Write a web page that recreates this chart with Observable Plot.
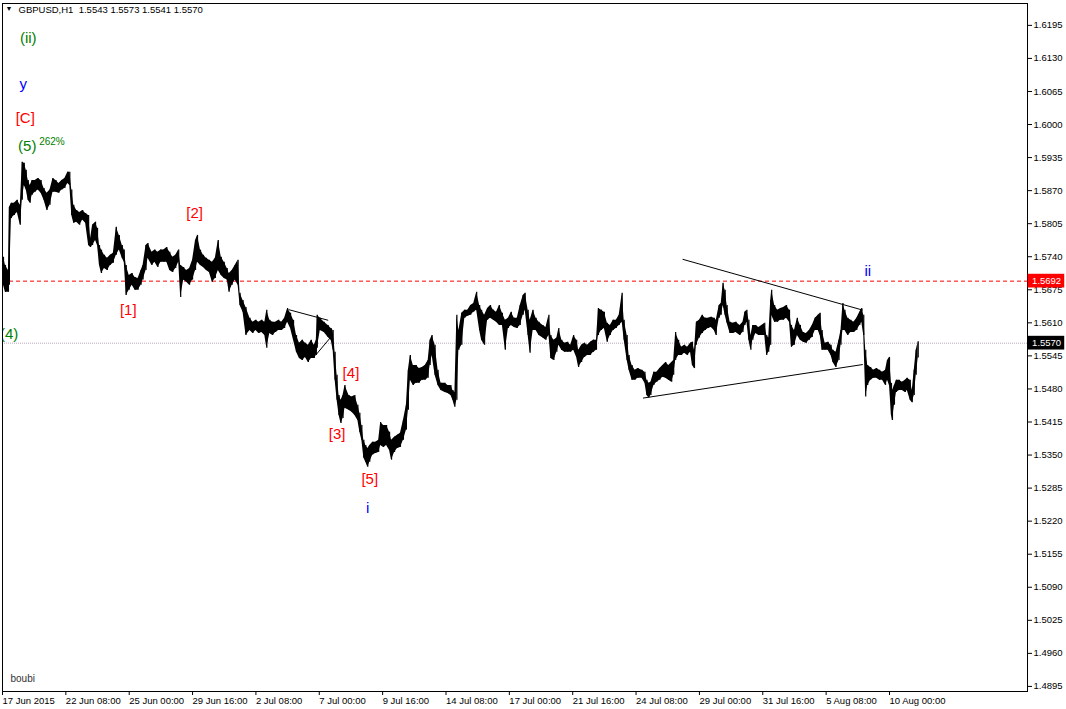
<!DOCTYPE html>
<html><head><meta charset="utf-8">
<script src="https://cdn.jsdelivr.net/npm/d3@7"></script>
<script src="https://cdn.jsdelivr.net/npm/@observablehq/plot@0.6"></script>
<style>body{margin:0;background:#fff;overflow:hidden}</style>
</head><body><div id="chart"></div>
<script>
// [bar index, high, low] sampled from the hourly GBPUSD bars
const hourlyRange = [
[0,1.5739,1.5684],[2,1.5723,1.5670],[5,1.5713,1.5670],[6,1.5837,1.5684],[8,1.5845,1.5815],[11,1.5845,1.5821],[14,1.5851,1.5827],[17,1.5841,1.5802],[19,1.5926,1.5851],[21,1.5924,1.5880],
[23,1.5910,1.5871],[25,1.5890,1.5851],[27,1.5880,1.5845],[29,1.5890,1.5861],[32,1.5890,1.5867],[35,1.5894,1.5871],[38,1.5890,1.5865],[41,1.5874,1.5851],[44,1.5865,1.5831],[47,1.5871,1.5841],
[50,1.5894,1.5867],[53,1.5890,1.5867],[56,1.5884,1.5865],[59,1.5890,1.5871],[62,1.5894,1.5874],[65,1.5906,1.5884],[67,1.5906,1.5880],[69,1.5871,1.5821],[71,1.5841,1.5806],[74,1.5831,1.5808],
[77,1.5827,1.5802],[80,1.5831,1.5812],[83,1.5825,1.5806],[86,1.5821,1.5762],[88,1.5776,1.5758],[90,1.5802,1.5762],[93,1.5808,1.5772],[95,1.5796,1.5762],[97,1.5762,1.5723],[99,1.5753,1.5707],
[102,1.5743,1.5717],[105,1.5737,1.5713],[108,1.5743,1.5723],[111,1.5747,1.5727],[114,1.5798,1.5743],[117,1.5782,1.5753],[120,1.5762,1.5737],[122,1.5753,1.5729],[124,1.5723,1.5664],[127,1.5703,1.5674],
[130,1.5707,1.5684],[133,1.5699,1.5674],[136,1.5697,1.5674],[139,1.5713,1.5684],[141,1.5723,1.5694],[144,1.5762,1.5713],[146,1.5766,1.5737],[150,1.5749,1.5723],[153,1.5753,1.5729],[156,1.5749,1.5719],
[159,1.5753,1.5729],[162,1.5753,1.5729],[165,1.5758,1.5729],[168,1.5749,1.5713],[171,1.5739,1.5709],[174,1.5743,1.5717],[177,1.5753,1.5729],[179,1.5723,1.5660],[182,1.5719,1.5694],[185,1.5713,1.5690],
[188,1.5717,1.5684],[191,1.5733,1.5694],[194,1.5772,1.5713],[196,1.5782,1.5729],[199,1.5753,1.5723],[202,1.5743,1.5719],[205,1.5737,1.5713],[208,1.5733,1.5709],[211,1.5729,1.5690],[214,1.5737,1.5697],
[217,1.5772,1.5713],[220,1.5739,1.5703],[223,1.5729,1.5697],[226,1.5717,1.5694],[228,1.5707,1.5670],[231,1.5713,1.5684],[234,1.5723,1.5694],[237,1.5733,1.5684],[239,1.5668,1.5644],[242,1.5654,1.5631],
[245,1.5640,1.5585],[249,1.5619,1.5595],[252,1.5611,1.5589],[255,1.5615,1.5595],[258,1.5611,1.5589],[261,1.5615,1.5591],[264,1.5611,1.5585],[266,1.5635,1.5560],[269,1.5615,1.5589],[272,1.5611,1.5585],
[275,1.5611,1.5591],[278,1.5615,1.5595],[281,1.5611,1.5595],[284,1.5619,1.5599],[287,1.5638,1.5611],[290,1.5629,1.5599],[293,1.5615,1.5576],[296,1.5585,1.5552],[299,1.5570,1.5540],[302,1.5576,1.5536],
[305,1.5570,1.5542],[308,1.5566,1.5532],[311,1.5576,1.5540],[314,1.5566,1.5540],[316,1.5576,1.5546],[317,1.5625,1.5560],[320,1.5619,1.5595],[324,1.5611,1.5591],[328,1.5605,1.5581],[331,1.5599,1.5576],
[333,1.5595,1.5556],[335,1.5552,1.5497],[337,1.5507,1.5458],[339,1.5467,1.5428],[341,1.5458,1.5412],[343,1.5467,1.5422],[345,1.5487,1.5442],[349,1.5467,1.5438],[352,1.5464,1.5434],[355,1.5467,1.5428],
[358,1.5448,1.5418],[360,1.5432,1.5395],[362,1.5408,1.5379],[364,1.5379,1.5344],[366,1.5369,1.5336],[368,1.5363,1.5326],[370,1.5369,1.5336],[373,1.5375,1.5350],[376,1.5375,1.5353],[379,1.5379,1.5355],
[381,1.5414,1.5369],[384,1.5408,1.5365],[387,1.5408,1.5369],[390,1.5395,1.5359],[392,1.5379,1.5340],[395,1.5385,1.5355],[398,1.5389,1.5363],[401,1.5393,1.5365],[404,1.5418,1.5379],[407,1.5448,1.5399],
[409,1.5517,1.5438],[411,1.5546,1.5497],[414,1.5526,1.5487],[417,1.5526,1.5491],[420,1.5520,1.5491],[423,1.5522,1.5497],[426,1.5526,1.5497],[429,1.5536,1.5501],[431,1.5576,1.5526],[433,1.5585,1.5546],
[436,1.5566,1.5507],[439,1.5517,1.5487],[442,1.5491,1.5477],[446,1.5491,1.5473],[449,1.5487,1.5471],[452,1.5487,1.5467],[454,1.5477,1.5458],[456,1.5473,1.5444],[458,1.5625,1.5458],[460,1.5595,1.5556],
[463,1.5629,1.5566],[466,1.5635,1.5619],[469,1.5635,1.5623],[472,1.5644,1.5625],[475,1.5648,1.5631],[478,1.5670,1.5635],[481,1.5644,1.5595],[483,1.5635,1.5576],[486,1.5625,1.5566],[489,1.5638,1.5615],
[492,1.5644,1.5619],[495,1.5635,1.5615],[498,1.5631,1.5611],[501,1.5644,1.5605],[504,1.5629,1.5605],[507,1.5615,1.5556],[510,1.5619,1.5599],[513,1.5631,1.5605],[516,1.5619,1.5601],[519,1.5619,1.5599],
[522,1.5644,1.5605],[525,1.5664,1.5625],[527,1.5668,1.5635],[530,1.5635,1.5585],[532,1.5615,1.5550],[535,1.5635,1.5595],[538,1.5619,1.5595],[541,1.5611,1.5585],[545,1.5605,1.5580],[548,1.5601,1.5576],
[551,1.5625,1.5585],[553,1.5585,1.5540],[556,1.5576,1.5536],[559,1.5580,1.5552],[561,1.5599,1.5566],[564,1.5576,1.5556],[567,1.5570,1.5552],[570,1.5572,1.5552],[573,1.5566,1.5552],[576,1.5585,1.5556],
[579,1.5576,1.5542],[581,1.5556,1.5522],[584,1.5566,1.5532],[587,1.5570,1.5542],[590,1.5566,1.5546],[593,1.5572,1.5546],[596,1.5576,1.5552],[599,1.5576,1.5556],[601,1.5638,1.5585],[604,1.5635,1.5595],
[607,1.5631,1.5599],[610,1.5609,1.5572],[613,1.5605,1.5585],[616,1.5615,1.5595],[619,1.5615,1.5599],[622,1.5625,1.5605],[625,1.5668,1.5611],[627,1.5615,1.5576],[630,1.5585,1.5536],[632,1.5546,1.5517],
[635,1.5526,1.5497],[638,1.5517,1.5497],[641,1.5520,1.5501],[645,1.5517,1.5501],[648,1.5513,1.5491],[650,1.5497,1.5467],[652,1.5491,1.5462],[654,1.5493,1.5467],[657,1.5513,1.5487],[660,1.5513,1.5493],
[663,1.5520,1.5497],[666,1.5526,1.5503],[669,1.5532,1.5501],[672,1.5526,1.5497],[675,1.5532,1.5493],[677,1.5536,1.5507],[679,1.5591,1.5536],[682,1.5576,1.5546],[685,1.5562,1.5546],[688,1.5566,1.5550],
[691,1.5562,1.5546],[694,1.5570,1.5552],[696,1.5572,1.5526],[698,1.5556,1.5520],[700,1.5611,1.5566],[703,1.5615,1.5580],[706,1.5625,1.5589],[709,1.5619,1.5595],[712,1.5619,1.5599],[715,1.5621,1.5601],
[718,1.5619,1.5595],[720,1.5615,1.5585],[723,1.5644,1.5619],[725,1.5648,1.5625],[727,1.5688,1.5644],[729,1.5674,1.5625],[731,1.5644,1.5609],[734,1.5611,1.5589],[737,1.5609,1.5589],[740,1.5611,1.5591],
[744,1.5605,1.5585],[747,1.5611,1.5591],[749,1.5631,1.5605],[751,1.5635,1.5611],[753,1.5615,1.5576],[755,1.5585,1.5556],[757,1.5605,1.5576],[760,1.5605,1.5589],[763,1.5601,1.5585],[766,1.5605,1.5585],
[769,1.5609,1.5585],[771,1.5585,1.5546],[773,1.5580,1.5552],[775,1.5654,1.5566],[776,1.5674,1.5625],[779,1.5644,1.5611],[782,1.5635,1.5611],[785,1.5638,1.5615],[788,1.5640,1.5615],[791,1.5644,1.5619],
[794,1.5635,1.5611],[796,1.5605,1.5562],[799,1.5595,1.5566],[802,1.5619,1.5585],[805,1.5605,1.5576],[808,1.5591,1.5572],[811,1.5589,1.5570],[814,1.5595,1.5576],[817,1.5605,1.5581],[820,1.5619,1.5595],
[823,1.5625,1.5595],[825,1.5629,1.5585],[827,1.5595,1.5556],[830,1.5570,1.5556],[833,1.5572,1.5556],[836,1.5566,1.5546],[838,1.5556,1.5532],[841,1.5552,1.5522],[844,1.5576,1.5536],[846,1.5595,1.5566],
[848,1.5648,1.5595],[850,1.5635,1.5595],[853,1.5619,1.5585],[856,1.5615,1.5591],[859,1.5611,1.5591],[862,1.5619,1.5595],[865,1.5631,1.5605],[867,1.5638,1.5611],[869,1.5625,1.5585],[871,1.5556,1.5464],
[873,1.5526,1.5487],[876,1.5522,1.5497],[879,1.5517,1.5501],[882,1.5520,1.5501],[885,1.5517,1.5497],[888,1.5513,1.5497],[891,1.5517,1.5487],[893,1.5536,1.5497],[895,1.5542,1.5487],[897,1.5491,1.5428],
[898,1.5477,1.5418],[900,1.5487,1.5448],[902,1.5497,1.5473],[905,1.5497,1.5477],[908,1.5493,1.5477],[911,1.5497,1.5473],[913,1.5501,1.5477],[916,1.5497,1.5458],[918,1.5477,1.5453],[920,1.5517,1.5467],
[922,1.5556,1.5507],[924,1.5573,1.5541]
];

const priceTicks = [1.6195,1.6130,1.6065,1.6000,1.5935,1.5870,1.5805,1.5740,1.5675,1.5610,1.5545,1.5480,1.5415,1.5350,1.5285,1.5220,1.5155,1.5090,1.5025,1.4960,1.4895];
const timeTickBars = [0,64,128,192,256,320,384,448,512,576,640,704,768,832,896];
const timeTickLabels = ["17 Jun 2015","22 Jun 08:00","25 Jun 00:00","29 Jun 16:00","2 Jul 08:00","7 Jul 00:00","9 Jul 16:00","14 Jul 08:00","17 Jul 00:00","21 Jul 16:00","24 Jul 08:00","29 Jul 00:00","31 Jul 16:00","5 Aug 08:00","10 Aug 00:00"];
const levelPrice = 1.5692;
const bidPrice = 1.5570;
const symbolTitle = "GBPUSD,H1  1.5543 1.5573 1.5541 1.5570";
const authorName = "boubi";

// wave labels: text, bar, price, degree
const waveText   = ["(ii)","y","[C]","(5)","262%","[1]","[2]","[3]","[4]","[5]","i","ii","(4)"];
const waveBar    = [25,20,22,24,36,126,193,337,351,370,368,873,15];
const wavePrice  = [1.6169,1.6079,1.6012,1.5957,1.5967,1.5635,1.5825,1.5391,1.5511,1.5302,1.5245,1.5711,1.5587];
const waveDegree = ["intermediate","primary","minor","intermediate","ratio","minor","minor","minor","minor","minor","primary","primary","intermediate"];

// trend lines: [bar1, price1, bar2, price2]
const trendLines = [
  [288,1.5636,328,1.5615],
  [316,1.5548,332,1.5585],
  [686,1.5735,868,1.5635],
  [646,1.5462,868,1.5528]
];

const degreeColor = {intermediate:"#008000", primary:"#0000ff", minor:"#ff0000", ratio:"#008000"};
const labels = waveText.map((t,i)=>({text:t, bar:waveBar[i], price:wavePrice[i], degree:waveDegree[i]}));
const big = labels.filter(d=>d.degree!=="ratio" && d.text!=="(4)");
const ratio = labels.filter(d=>d.degree==="ratio");
const edge = labels.filter(d=>d.text==="(4)");
const segs = trendLines.map(([a,b,c,d])=>({x1:a,y1:b,x2:c,y2:d}));

const W = 1066, H = 709;
const chart = Plot.plot({
  width: W, height: H,
  marginLeft: 2, marginRight: 39, marginTop: 3, marginBottom: 18,
  x: {domain: [-1, 1034.4], axis: null},
  y: {domain: [1.4885, 1.6238], axis: null},
  style: {fontFamily: "Liberation Sans, Arial, sans-serif", fontSize: "9.5px", background: "#fff", color: "#000"},
  marks: [
    Plot.ruleY([bidPrice], {stroke: "#b9a6bd", strokeDasharray: "1,1", strokeWidth: 1}),
    Plot.ruleY([levelPrice], {stroke: "#ff0000", strokeDasharray: "4,3", strokeWidth: 1}),
    Plot.areaY(hourlyRange, {x: d=>d[0], y1: d=>d[2], y2: d=>d[1], fill: "#000", curve: "linear"}),
    Plot.ruleX(hourlyRange, {x: d=>d[0], y1: d=>d[2], y2: d=>d[1], stroke: "#000", strokeWidth: 1.2}),
    Plot.link(segs, {x1:"x1", y1:"y1", x2:"x2", y2:"y2", stroke: "#000", strokeWidth: 1}),
    Plot.text(big, {x:"bar", y:"price", text:"text", fill: d=>degreeColor[d.degree], fontSize: 15, fontFamily: "Liberation Sans, Arial, sans-serif"}),
    Plot.text(ratio, {x:"bar", y:"price", text:"text", fill: d=>degreeColor[d.degree], fontSize: 10, textAnchor: "start"}),
    Plot.text(edge, {x:"bar", y:"price", text:"text", fill: d=>degreeColor[d.degree], fontSize: 15, textAnchor: "end", clip: true}),
    Plot.text([authorName], {frameAnchor: "bottom-left", dx: 8, dy: -10, fill: "#333", fontSize: 10, textAnchor: "start"}),
    Plot.text(["\u25BC"], {frameAnchor: "top-left", dx: 3, dy: 3, fontSize: 7, textAnchor: "start", lineAnchor: "top", fill: "#000"}),
    Plot.text([symbolTitle], {frameAnchor: "top-left", dx: 16, dy: 3, fontSize: 9.5, textAnchor: "start", lineAnchor: "top", fill: "#000"}),
    Plot.frame({stroke: "#000", strokeWidth: 1}),
    Plot.axisY(priceTicks, {anchor: "right", tickSize: 4, tickPadding: 2, tickFormat: d=>d.toFixed(4), fontSize: 9.5}),
    Plot.axisX(timeTickBars, {anchor: "bottom", tickSize: 4, tickPadding: 2, textAnchor: "start", dx: -1, tickFormat: d=>timeTickLabels[timeTickBars.indexOf(d)], fontSize: 9.5}),
    Plot.rect([levelPrice], {x1: 1035, x2: 1072, y1: d=>d-0.00135, y2: d=>d+0.00135, fill: "#ff0000"}),
    Plot.text([levelPrice], {x: 1035, y: d=>d, text: d=>d.toFixed(4), fill: "#fff", textAnchor: "start", dx: 4, fontSize: 9.5}),
    Plot.rect([bidPrice], {x1: 1035, x2: 1072, y1: d=>d-0.00135, y2: d=>d+0.00135, fill: "#000"}),
    Plot.text([bidPrice], {x: 1035, y: d=>d, text: d=>d.toFixed(4), fill: "#fff", textAnchor: "start", dx: 4, fontSize: 9.5})
  ]
});
document.getElementById("chart").appendChild(chart);
</script>
</body></html>
